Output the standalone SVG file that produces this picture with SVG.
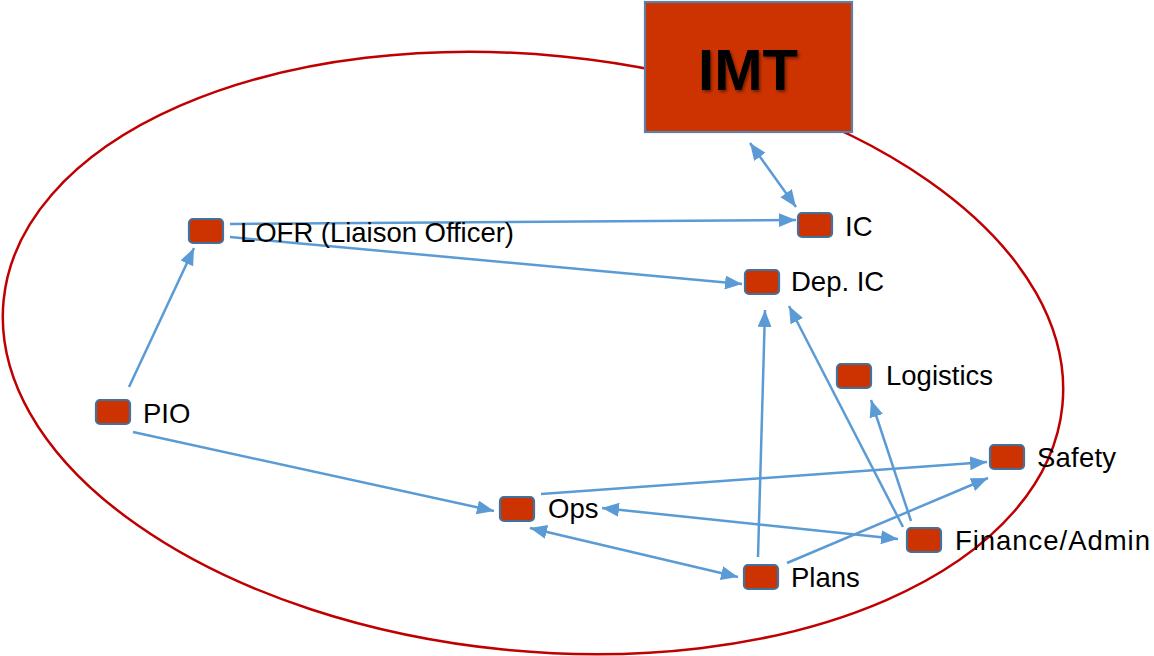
<svg xmlns="http://www.w3.org/2000/svg" width="1154" height="656" viewBox="0 0 1154 656">
  <defs>
    <style>
      .node { fill: #CC3300; stroke: #41719C; stroke-width: 2.2; }
      .label { font-family: "Liberation Sans", Arial, sans-serif; font-size: 27.5px; fill: #000; }
      .edge { stroke: #5B9BD5; stroke-width: 2.5; fill: none; }
      .one { marker-end: url(#arrow); }
      .two { marker-start: url(#arrow); marker-end: url(#arrow); }
    </style>
    <marker id="arrow" markerUnits="userSpaceOnUse" markerWidth="18" markerHeight="16" refX="17" refY="7" orient="auto-start-reverse">
      <path d="M0,0 L17,7 L0,14 Z" fill="#5B9BD5"/>
    </marker>
    <filter id="shadow" x="-10%" y="-10%" width="130%" height="140%">
      <feDropShadow dx="1.5" dy="2" stdDeviation="1.5" flood-color="#000" flood-opacity="0.45"/>
    </filter>
  </defs>

  <!-- team boundary -->
  <ellipse cx="533" cy="353" rx="532" ry="298" transform="rotate(5.7 533 353)" fill="none" stroke="#C00000" stroke-width="2.5"/>

  <!-- connectors -->
  <g id="connectors">
    <line class="edge two" x1="750" y1="143" x2="796" y2="207"/>
    <line class="edge one" x1="230" y1="224" x2="796" y2="220"/>
    <line class="edge one" x1="230" y1="237" x2="742" y2="284"/>
    <line class="edge one" x1="129" y1="387" x2="194" y2="248"/>
    <line class="edge one" x1="133" y1="432" x2="494" y2="511"/>
    <line class="edge one" x1="541" y1="494" x2="987" y2="462"/>
    <line class="edge two" x1="602" y1="508" x2="898" y2="539"/>
    <line class="edge two" x1="530" y1="528" x2="738" y2="577"/>
    <line class="edge one" x1="758" y1="557" x2="765" y2="310"/>
    <line class="edge one" x1="787" y1="563" x2="988" y2="478"/>
    <line class="edge one" x1="903" y1="527" x2="789" y2="306"/>
    <line class="edge one" x1="911" y1="521" x2="871" y2="400"/>
  </g>

  <!-- IMT -->
  <g id="imt">
    <rect x="645" y="2" width="207" height="130" fill="#CC3300" stroke="#5B7FA6" stroke-width="2.2"/>
    <text x="748" y="90" text-anchor="middle" font-family="'Liberation Sans', Arial, sans-serif" font-weight="bold" font-size="58" fill="#000" filter="url(#shadow)">IMT</text>
  </g>

  <g id="lofr">
    <rect class="node" x="189" y="219" width="34" height="24" rx="4"/>
    <text class="label" x="240" y="242" textLength="274">LOFR (Liaison Officer)</text>
  </g>
  <g id="ic">
    <rect class="node" x="798" y="213" width="34" height="24" rx="4"/>
    <text class="label" x="845" y="236">IC</text>
  </g>
  <g id="dep-ic">
    <rect class="node" x="745" y="270" width="34" height="24" rx="4"/>
    <text class="label" x="791" y="291">Dep. IC</text>
  </g>
  <g id="logistics">
    <rect class="node" x="837" y="364" width="34" height="24" rx="4"/>
    <text class="label" x="886" y="385" textLength="107">Logistics</text>
  </g>
  <g id="pio">
    <rect class="node" x="96" y="400" width="34" height="24" rx="4"/>
    <text class="label" x="143" y="423">PIO</text>
  </g>
  <g id="safety">
    <rect class="node" x="990" y="445" width="34" height="24" rx="4"/>
    <text class="label" x="1037" y="467" textLength="79">Safety</text>
  </g>
  <g id="ops">
    <rect class="node" x="500" y="497" width="34" height="24" rx="4"/>
    <text class="label" x="548" y="518">Ops</text>
  </g>
  <g id="finance-admin">
    <rect class="node" x="907" y="528" width="34" height="24" rx="4"/>
    <text class="label" x="955" y="550" textLength="195">Finance/Admin</text>
  </g>
  <g id="plans">
    <rect class="node" x="744" y="565" width="34" height="24" rx="4"/>
    <text class="label" x="791" y="587">Plans</text>
  </g>
</svg>
